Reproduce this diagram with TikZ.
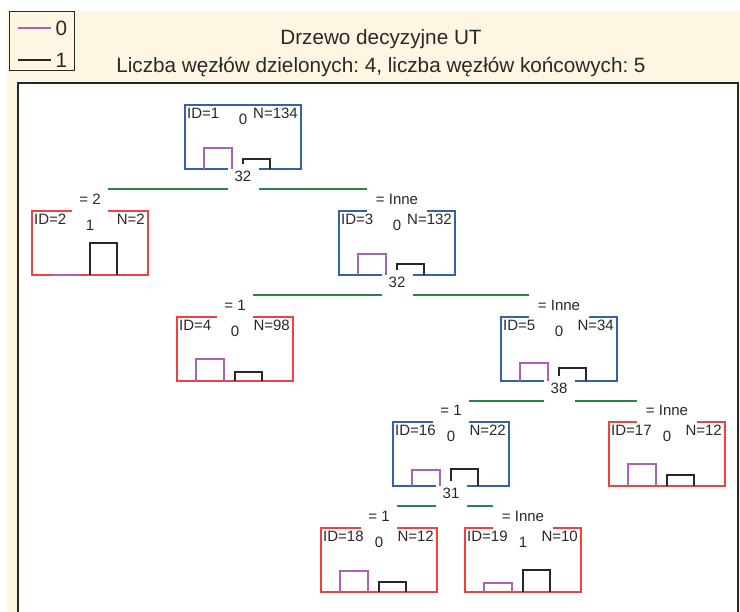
\documentclass[tikz,border=0pt]{standalone}
\usepackage{fontspec}
\setmainfont{Liberation Sans}
\frenchspacing
\definecolor{splitblue}{RGB}{52,96,178}
\definecolor{leafred}{RGB}{240,64,64}
\definecolor{branchgreen}{RGB}{40,135,72}
\definecolor{classzero}{RGB}{170,96,190}
\definecolor{panel}{RGB}{253,246,226}
\definecolor{ink}{RGB}{40,40,40}

\begin{document}
\begin{tikzpicture}[x=1pt, y=-1pt,
    boxline/.style={line width=1.3pt},
    bar/.style={line width=1.3pt},
    branch/.style={draw=branchgreen, line width=1.2pt},
    txt/.style={inner sep=0pt, text=ink, font=\fontsize{15}{15}\selectfont},
    bigtxt/.style={inner sep=0pt, text=ink, font=\fontsize{20.7}{20.7}\selectfont},
    cutlabel/.style={txt, anchor=base, fill=white, inner xsep=1pt, text height=18pt, text depth=1pt}]
  \useasboundingbox (0,0) rectangle (740,612);
  \fill[panel] (7,11) rectangle (740,612);
  \draw[ink, fill=white, line width=1.2pt] (18,83) rectangle (738,640);

  % legend
  \draw[ink, fill=panel, line width=1pt] (9,12) rectangle (74,71);
  \draw[classzero, line width=1.2pt] (18,28) -- (51,28) node[bigtxt, anchor=west, xshift=4pt] (leg0) {0};
  \draw[ink, line width=1.2pt] (18,60) -- (51,60) node[bigtxt, anchor=west, xshift=4pt] (leg1) {1};

  % title
  \node[bigtxt, anchor=base] (title) at (381,45) {Drzewo decyzyjne UT};
  \node[bigtxt, anchor=base] (subtitle) at (381,73) {Liczba węzłów dzielonych: 4, liczba węzłów końcowych: 5};

  % tree boxes
  \foreach \nm/\lx/\ty/\col/\id/\cl/\nn/\ph/\bh/\tg/\bg in {
      n1/185/105/splitblue/1/0/134/21/10/0/15.5,
      n2/32/211/leafred/2/1/2/0/32/18/0,
      n3/339/211/splitblue/3/0/132/21/11/30/15.5,
      n4/177/317/leafred/4/0/98/22/9/18/0,
      n5/501/317/splitblue/5/0/34/18/13/30/15.5,
      n16/393/422/splitblue/16/0/22/16/17/18/15.5,
      n17/609/422/leafred/17/0/12/22/11/30/0,
      n18/321/528/leafred/18/0/12/21/10/18/0,
      n19/465/528/leafred/19/1/10/9/22/30/0}{
    \pgfmathsetmacro\cx{\lx+58}
    \pgfmathsetmacro\rx{\lx+116}
    \pgfmathsetmacro\by{\ty+64}
    % outline, broken where the labels sit
    \draw[boxline, draw=\col] (\cx-\tg,\ty) -- (\lx,\ty) -- (\lx,\by) -- (\cx-\bg,\by);
    \draw[boxline, draw=\col] (\cx+\bg,\by) -- (\rx,\by) -- (\rx,\ty) -- (\cx+\tg,\ty);
    % class bars
    \draw[bar, classzero] (\lx+19,\by) |- (\lx+47,\by-\ph) -- (\lx+47,\by);
    \draw[bar, ink] (\lx+58,\by) |- (\lx+85,\by-\bh) -- (\lx+85,\by);
    \node[txt, anchor=base west] (\nm-id) at (\lx+2,\ty+14) {ID=\id};
    \node[txt, anchor=base] (\nm-cl) at (\cx,\ty+20) {\cl};
    \node[txt, anchor=base east] (\nm-n) at (\rx-3,\ty+14) {N=\nn};
    \coordinate (\nm-up) at (\cx,\ty-6);
    \coordinate (\nm-tl) at (\cx-\tg,\ty);
    \coordinate (\nm-tr) at (\cx+\tg,\ty);
    \coordinate (\nm-bl) at (\cx-\bg,\by);
    \coordinate (\nm-br) at (\cx+\bg,\by);
    \coordinate (\nm-cut) at (\cx,\by+13);
    \coordinate (\nm-fork) at (\cx,\by+20);
  }

  % split values
  \node[cutlabel] (n1-val) at (n1-cut) {32};
  \node[cutlabel] (n3-val) at (n3-cut) {32};
  \node[cutlabel] (n5-val) at (n5-cut) {38};
  \node[cutlabel] (n16-val) at (n16-cut) {31};

  % branch labels
  \node[txt, anchor=base] (n2-lab) at (n2-up) {= 2};
  \node[txt, anchor=base] (n3-lab) at (n3-up) {= Inne};
  \node[txt, anchor=base] (n4-lab) at (n4-up) {= 1};
  \node[txt, anchor=base] (n5-lab) at (n5-up) {= Inne};
  \node[txt, anchor=base] (n16-lab) at (n16-up) {= 1};
  \node[txt, anchor=base] (n17-lab) at (n17-up) {= Inne};
  \node[txt, anchor=base] (n18-lab) at (n18-up) {= 1};
  \node[txt, anchor=base] (n19-lab) at (n19-up) {= Inne};

  % branches
  \draw[branch] (n2-tr |- n1-fork) -- (n1-bl |- n1-fork);
  \draw[branch] (n1-br |- n1-fork) -- (n3-tl |- n1-fork);
  \draw[branch] (n4-tr |- n3-fork) -- (n3-bl |- n3-fork);
  \draw[branch] (n3-br |- n3-fork) -- (n5-tl |- n3-fork);
  \draw[branch] (n16-tr |- n5-fork) -- (n5-bl |- n5-fork);
  \draw[branch] (n5-br |- n5-fork) -- (n17-tl |- n5-fork);
  \draw[branch] (n18-tr |- n16-fork) -- (n16-bl |- n16-fork);
  \draw[branch] (n16-br |- n16-fork) -- (n19-tl |- n16-fork);
\end{tikzpicture}
\end{document}
